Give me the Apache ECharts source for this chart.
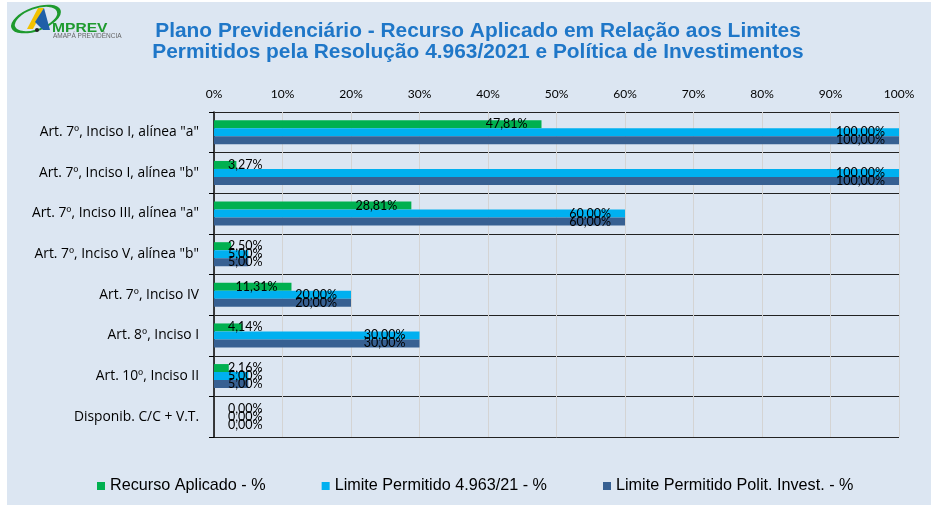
<!DOCTYPE html>
<html><head><meta charset="utf-8">
<script src="https://cdn.jsdelivr.net/npm/echarts@6/dist/echarts.min.js"></script>
<style>
html,body{margin:0;padding:0;background:#fff;overflow:hidden;}
#c{position:absolute;left:7px;top:2px;width:924px;height:505px;}
</style></head>
<body><div id="c"></div>
<script>
const categories = ['Art. 7º, Inciso I, alínea "a"','Art. 7º, Inciso I, alínea "b"','Art. 7º, Inciso III, alínea "a"','Art. 7º, Inciso V, alínea "b"','Art. 7º, Inciso IV','Art. 8º, Inciso I','Art. 10º, Inciso II','Disponib. C/C + V.T.'];
const recursoAplicado = [47.81, 3.27, 28.81, 2.50, 11.31, 4.14, 2.16, 0];
const limite4963 = [100, 100, 60, 5, 20, 30, 5, 0];
const limitePolitica = [100, 100, 60, 5, 20, 30, 5, 0];
const seriesNames = ['Recurso Aplicado - %','Limite Permitido 4.963/21 - %','Limite Permitido Polit. Invest. - %'];
const colors = ['#00B050','#00B0F0','#376092'];

const fmt = v => v.toFixed(2).replace('.', ',') + '%';
function toData(arr){
  return arr.map(v => ({
    value: v,
    label: v < 10 ? {position:'insideLeft', distance:14} : {position:'insideRight', distance:14}
  }));
}
const labelStyle = {show:true, color:'#000', fontFamily:'Lato', fontSize:12.5, formatter: p => fmt(p.value)};

const chart = echarts.init(document.getElementById('c'));
chart.setOption({
  backgroundColor:'#DCE6F2',
  animation:false,
  color: colors,
  title:{
    text:'Plano Previdenciário - Recurso Aplicado em Relação aos Limites\nPermitidos pela Resolução 4.963/2021 e Política de Investimentos',
    left:466, top:14, textAlign:'center',
    textStyle:{fontFamily:'Liberation Sans', fontWeight:'bold', fontSize:20.9, color:'#1F77C8', lineHeight:21}
  },
  graphic:[
    {type:'circle', shape:{cx:0, cy:0, r:11}, x:29, y:17, scaleX:2.2, scaleY:1, rotation:0.35,
      style:{fill:'none', stroke:'#1E9A2E', lineWidth:1.8}},
    {type:'polygon', shape:{points:[[20,27],[31,6],[37,6],[26,27]]}, style:{fill:'#F2C200'}},
    {type:'polygon', shape:{points:[[28,20],[37,6],[43,28],[36,28]]}, style:{fill:'#1F5FA8'}},
    {type:'circle', shape:{cx:30, cy:28, r:2}, style:{fill:'#222'}},
    {type:'text', x:45, y:20, scaleX:1.2, style:{text:'MPREV', fill:'#1E9A2E', font:'bold 13px "Liberation Sans"'}},
    {type:'text', x:46, y:31, style:{text:'AMAPÁ PREVIDÊNCIA', fill:'#666', font:'6.5px "Liberation Sans"'}}
  ],
  legend:{
    bottom:8, left:85,
    itemWidth:8, itemHeight:8, itemGap:56, icon:'rect',
    textStyle:{fontFamily:'Liberation Sans', fontSize:16.2, color:'#000'},
    data: seriesNames
  },
  grid:{left:207, right:32, top:110, bottom:70, containLabel:false},
  xAxis:{
    type:'value', position:'top', min:0, max:100, interval:10,
    axisLine:{show:false}, axisTick:{show:false},
    axisLabel:{formatter:'{value}%', fontFamily:'Lato', fontSize:12, color:'#000', margin:12},
    splitLine:{show:true, lineStyle:{color:'#D4D4D4', width:1}}
  },
  yAxis:{
    type:'category', inverse:true, data:categories,
    axisLine:{show:true, lineStyle:{color:'#000', width:1.5}},
    axisTick:{show:true, length:5, lineStyle:{color:'#000'}},
    axisLabel:{fontFamily:'Open Sans', fontSize:13.8, color:'#000', margin:15},
    splitLine:{show:true, lineStyle:{color:'#222', width:1}}
  },
  series:[
    {name:seriesNames[0], type:'bar', data:toData(recursoAplicado), barWidth:8, barGap:'0%', label:labelStyle},
    {name:seriesNames[1], type:'bar', data:toData(limite4963), barWidth:8, barGap:'0%', label:labelStyle},
    {name:seriesNames[2], type:'bar', data:toData(limitePolitica), barWidth:8, barGap:'0%', label:labelStyle}
  ]
});
</script></body></html>
